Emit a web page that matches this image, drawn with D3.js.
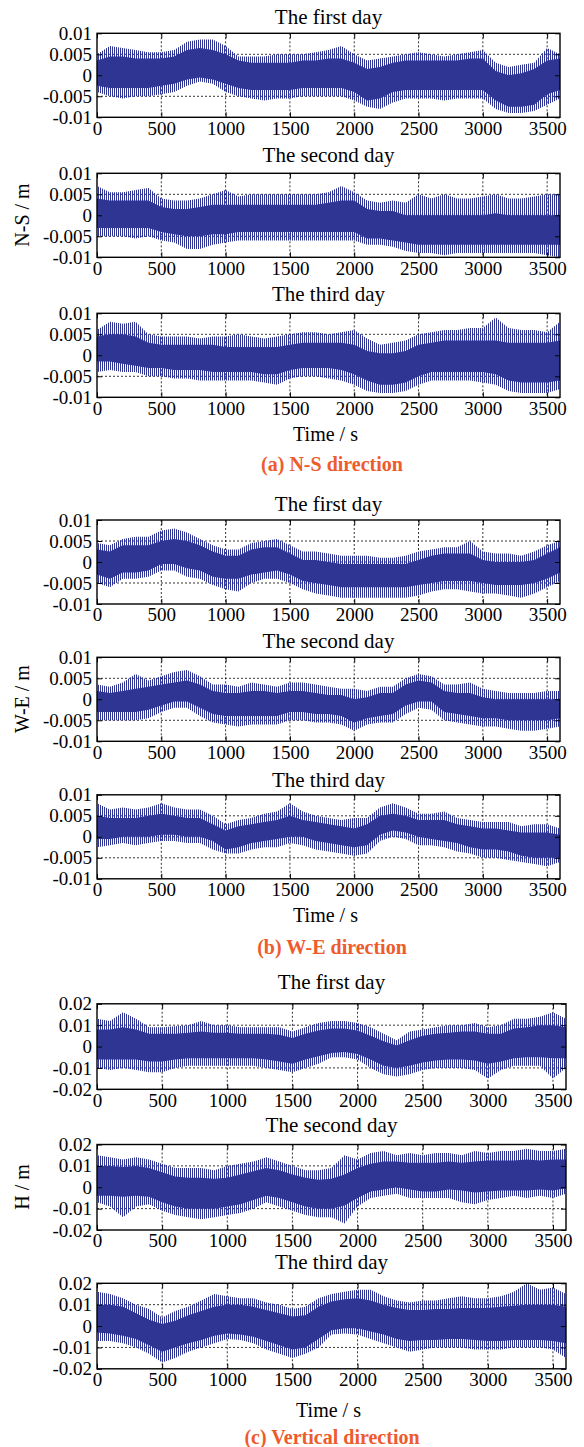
<!DOCTYPE html>
<html><head><meta charset="utf-8">
<script src="https://cdn.jsdelivr.net/npm/d3@7"></script>
<style>
body{margin:0;background:#fff}
</style>
</head><body>
<svg id="chart" width="584" height="1447"></svg>
<script>
// ---------------- DATA (envelopes, in mm) ----------------
const timeSec = [0,100,200,300,400,500,600,700,800,900,1000,1100,1200,1300,1400,1500,1600,1700,1800,1900,2000,2100,2200,2300,2400,2500,2600,2700,2800,2900,3000,3100,3200,3300,3400,3500,3600];
const xTicks = [0,500,1000,1500,2000,2500,3000,3500];
const yTicksHoriz = [-0.01,-0.005,0,0.005,0.01];
const yTicksVert = [-0.02,-0.01,0,0.01,0.02];
const dayTitles = ["The first day","The second day","The third day"];
const groupCaptions = ["(a) N-S direction","(b) W-E direction","(c) Vertical direction"];
const groupYLabels = ["N-S / m","W-E / m","H / m"];
const xLabel = "Time / s";

// N-S day 1
const ns1PeakHi = [5,7,6.5,6,5.5,5.5,6,8,8.5,8.5,7,4.5,4.5,4.5,5,5,5,5.5,6,7,5,3.5,4,4.5,5,5.5,5,4.5,5,5.5,6,3,2,2.5,3,6.5,5];
const ns1CoreHi = [3.5,4.5,4.5,4,4,4,4.5,6,6.5,6,5,3.5,3,3,3,3,3.5,3.5,4,4,3,1.5,2,3,3.5,3.5,3.5,3.5,3.5,4,4,1,0,0.5,1.5,3.5,4];
const ns1CoreLo = [-2.5,-3,-3,-3,-3,-2.5,-2,-1,-0.5,-1,-2,-3,-3.5,-3.5,-3.5,-3.5,-3,-3,-3,-3,-4,-6,-5.5,-4,-3.5,-3.5,-3.5,-3.5,-3.5,-3.5,-3.5,-6,-7.5,-7.5,-7,-4.5,-3.5];
const ns1PeakLo = [-4,-5,-5.5,-5,-5,-4.5,-4,-2.5,-1.5,-2,-4,-5,-5.5,-6,-5.5,-5.5,-5,-5,-5,-5,-6,-7.5,-8,-6.5,-5.5,-5.5,-5.5,-6,-5.5,-5.5,-5.5,-8,-9,-9,-8.5,-7,-5.5];
// N-S day 2
const ns2PeakHi = [7,5.5,5.5,6,6.5,4,3.5,3.5,4,5,6,4.5,5,5,5,5,5,5,5.5,7,5.5,3.5,3,3.5,3,5,4,5,4,4,4.5,5,4,4,4.5,5,5];
const ns2CoreHi = [4,3.5,3.5,3.5,3.5,2,1.5,1.5,2,2.5,2.5,2.5,2.5,2.5,2.5,2.5,2.5,2.5,3,3.5,3.5,1.5,1,1,0,0,0,0,0,0,0,0.5,0,0,0,0,0];
const ns2CoreLo = [-3,-3,-3,-3,-3,-4,-4.5,-5,-5,-4.5,-4.5,-4,-4,-4,-4,-4,-4,-4,-4,-4,-4,-5.5,-5.5,-6,-6.5,-7,-7,-7,-7,-7,-7,-7,-7,-7,-7,-7,-7];
const ns2PeakLo = [-5,-5,-5,-5.5,-5,-6,-6.5,-8,-8,-7,-6.5,-6,-6,-6,-6,-6,-6,-6,-6,-6,-6,-7,-7,-7.5,-8.5,-9,-9,-9.5,-9,-9,-9,-9,-9,-9,-9,-9.5,-10];
// N-S day 3
const ns3PeakHi = [6,8,7.5,8,5,4.5,4.5,4.5,4,4.5,4.5,5,4.5,4,4.5,5,5.5,5.5,5,5.5,6,4,2.5,3,3.5,5,5.5,6,6,6.5,6.5,9,6.5,6,6,5.5,8];
const ns3CoreHi = [4.5,5,5,4.5,3,2.5,2.5,2.5,2.5,2.5,2,2,2,2,2,2.5,3,3,3,3,2.5,1,0.5,0.5,1,2.5,3,3.5,3.5,3.5,3.5,3.5,3,3,3,3,3.5];
const ns3CoreLo = [-1.5,-1.5,-2,-2.5,-3,-3,-3.5,-3.5,-3.5,-4,-4,-4,-4,-4.5,-4.5,-3.5,-3,-3,-3,-3.5,-4.5,-6,-7,-7,-6.5,-5,-4,-4,-4,-4,-4,-4.5,-6,-6.5,-6.5,-6.5,-6];
const ns3PeakLo = [-4,-3.5,-4,-4,-5,-5,-5.5,-5.5,-6,-6,-6,-6,-6,-6.5,-7,-5.5,-5,-5,-5.5,-6,-7,-8.5,-9,-9,-8.5,-7,-6,-6,-6,-6,-6.5,-7,-8.5,-9,-9,-9,-8];
// W-E day 1
const we1PeakHi = [4.5,4,5.5,6,6,7.5,8,7,5.5,4,3,3,4.5,5,5.5,4,2.5,2.5,2,1.5,1.5,1.5,1,1,1.5,2.5,3,3.5,3.5,5,2.5,2,2,1.5,2.5,4,5];
const we1CoreHi = [3,2.5,4,4,4,5,5.5,5,4,2.5,1.5,1.5,3,3.5,3.5,2,0.5,0.5,0,-0.5,-0.5,-0.5,-0.5,-0.5,-0.5,0.5,1.5,2,2,2,0.5,0,0,0,0.5,2,3.5];
const we1CoreLo = [-3,-4,-2.5,-2.5,-2,-0.5,-0.5,-1.5,-2,-3.5,-4,-4,-3,-2.5,-2,-3,-4.5,-5,-5.5,-6,-6,-6,-6,-6,-6,-5.5,-5,-4.5,-4.5,-4.5,-5,-5.5,-5.5,-5.5,-5,-4,-2.5];
const we1PeakLo = [-5,-6,-4,-4,-3.5,-2,-2,-3.5,-4,-5.5,-6.5,-7,-5,-4,-4,-5,-6.5,-7.5,-8,-8.5,-8.5,-8.5,-8.5,-8.5,-8.5,-8,-7,-6.5,-6.5,-7,-7.5,-7.5,-8,-8.5,-7.5,-6,-4.5];
// W-E day 2
const we2PeakHi = [3.5,3,4,6,4.5,5.5,6.5,7,5.5,3.5,3.5,3,4,3.5,3,4,4,3.5,3,2.5,2.5,2,3,3,5,6,5.5,3.5,3.5,4,2.5,2,1.5,1.5,1.5,2,2];
const we2CoreHi = [2,1.5,2,2.5,3,3.5,4,4.5,3.5,2,1.5,1.5,2,2,1.5,2,2,1.5,1,1,0,0.5,1.5,1.5,3.5,4.5,4,2,1.5,1.5,0.5,0,0,0,0,0,0];
const we2CoreLo = [-3,-3,-3,-3,-2.5,-1.5,-0.5,-0.5,-2,-3.5,-4,-4,-4,-4,-4,-3,-3,-3.5,-3.5,-4,-5.5,-4.5,-4,-3.5,-1.5,-0.5,-0.5,-3,-3.5,-4,-4.5,-4.5,-5,-5,-5,-5,-4.5];
const we2PeakLo = [-5,-5,-5,-5,-4.5,-3,-2,-2,-4,-5.5,-6,-6.5,-6,-6,-6,-5,-5,-5.5,-5.5,-6,-7.5,-6,-5.5,-5.5,-3.5,-2,-2.5,-5,-5.5,-6,-6.5,-6.5,-7,-7.5,-7.5,-7,-6.5];
// W-E day 3
const we3PeakHi = [8,6.5,7,6.5,7,8,7,6.5,6.5,5,3,4,4.5,5.5,6,8,6,5,4.5,4,4.5,4.5,7,8,7,5.5,5.5,6,4.5,4,3.5,3.5,3.5,2.5,3,3,2];
const we3CoreHi = [5,4.5,4.5,4.5,5,5.5,5,4.5,4.5,3,1.5,2.5,3,3.5,4,5,4,3.5,3,2.5,2,3,5,5.5,5,4,4,4,3,2.5,2,2,1.5,1,1,1,0.5];
const we3CoreLo = [-0.5,-0.5,0,0,0,0.5,0.5,0,0,-1,-3,-2.5,-1.5,-1,-0.5,0,0,-1,-1.5,-2,-2.5,-2,0.5,1.5,1,0,-0.5,-1,-1.5,-2.5,-3,-3,-3.5,-4.5,-5,-5,-5];
const we3PeakLo = [-2.5,-2,-1.5,-2,-1.5,-1,-1,-1.5,-1.5,-3,-4,-4,-3,-2.5,-2.5,-1.5,-2,-3,-3.5,-4,-4.5,-4,-1,0,-0.5,-2,-2,-2.5,-3.5,-4,-5,-5,-5.5,-6,-6.5,-7,-6];
// H day 1
const h1PeakHi = [13,12,16,13,9,9,9.5,10,12,10,10,9,9,9,9,7,9,11,12,12,11,9,6,3,7,8,9,10,10,11,9,10,13,13,14,16,13];
const h1CoreHi = [8,8,9,8,6,6,6,6.5,7,6.5,6.5,6,6,6,5.5,4,6,7.5,8.5,8.5,7.5,5,2.5,0.5,3,5,6,6.5,7,7,6,6,8.5,9,10,10,9];
const h1CoreLo = [-6,-6,-6,-6,-7,-7,-6,-5.5,-5.5,-5.5,-5.5,-5.5,-5.5,-6,-7,-8,-6,-4.5,-3,-2.5,-3.5,-6,-9,-10,-9,-7.5,-6.5,-6,-6,-6.5,-8,-7,-5.5,-5,-5,-5.5,-5.5];
const h1PeakLo = [-10,-11,-10,-11,-12,-12,-10,-9,-9,-9,-9,-9,-9,-10,-11,-12,-10,-8,-5,-5,-6,-10,-13,-14,-13,-11,-10,-10,-10,-11,-15,-11,-9,-9,-9,-15,-10];
// H day 2
const h2PeakHi = [15,14,13,14,13,11,9,9,9,8,10,11,12,14,12,10,8,8,9,15,13,16,17,15,16,15,16,16,15,17,16,17,17,18,17,17,18];
const h2CoreHi = [10,10,9.5,10,9,7,5,4.5,4.5,4,4.5,6,7.5,9,8,6,4.5,3.5,4,6,9,11,12,12,11.5,11.5,11.5,12,11.5,12,12.5,12.5,12.5,13,12.5,13,13];
const h2CoreLo = [-4,-4,-4.5,-4,-4.5,-7,-9,-10,-10,-10,-9,-8,-6,-4,-5,-7,-9,-10,-10,-8.5,-5,-2,-1,0,-1,-2,-2,-1,-1.5,-2.5,-2,-1.5,-1.5,-1.5,-1,-1.5,-0.5];
const h2PeakLo = [-7,-9,-14,-9,-8,-11,-13,-14,-15,-14,-13,-12,-10,-7,-9,-11,-13,-14,-14,-17,-9,-5,-4,-3,-5,-5,-5,-5,-7,-8,-6,-5,-4,-5,-4,-5,-3];
// H day 3
const h3PeakHi = [16,15,13,10,8,4,7,9,12,15,14,13,13,11,10,8,9,13,15,16,17,17,14,12,11,12,12,13,14,13,13,14,16,20,17,18,15];
const h3CoreHi = [10,10,9,6,3,1,2.5,5,7,9,10,10,9,7.5,6,4.5,5,9,11.5,12.5,13,12,10,8.5,7.5,7.5,8,8,8.5,8.5,8.5,9,9.5,10,10,10,9];
const h3CoreLo = [-3,-3.5,-4.5,-6,-9,-12,-10,-8,-6.5,-4.5,-3.5,-4,-5,-7,-9,-11,-10,-6,-2,-1,-1,-2.5,-4,-6,-7,-6.5,-6.5,-6,-6,-6.5,-7,-7,-6.5,-6.5,-6.5,-7,-8];
const h3PeakLo = [-7,-7,-8,-10,-13,-17,-15,-12,-10,-8,-6,-6.5,-8,-11,-13,-15,-13,-10,-4,-3.5,-4,-6,-8,-10,-12,-11,-10,-10,-10,-11,-11,-11,-10,-10,-10,-11,-15];

// ---------------- LAYOUT ----------------
const FONT = "'Liberation Serif', 'DejaVu Serif', serif";
const BLUE = "#2e3592";
const CAPTION = "#ee5b2c";
const groups = [
  {x0:97, x1:560, tops:[33.3,173.3,313.3], h:84, yDomain:[-0.01,0.01], yTicks:yTicksHoriz,
   titleY:[16.7,155,294], ylabY:215, xlabY:434, capY:463.5,
   series:[[ns1PeakHi,ns1CoreHi,ns1CoreLo,ns1PeakLo],[ns2PeakHi,ns2CoreHi,ns2CoreLo,ns2PeakLo],[ns3PeakHi,ns3CoreHi,ns3CoreLo,ns3PeakLo]]},
  {x0:97, x1:560, tops:[520,657.3,794.8], h:84, yDomain:[-0.01,0.01], yTicks:yTicksHoriz,
   titleY:[504,640.5,779.3], ylabY:699, xlabY:915, capY:947,
   series:[[we1PeakHi,we1CoreHi,we1CoreLo,we1PeakLo],[we2PeakHi,we2CoreHi,we2CoreLo,we2PeakLo],[we3PeakHi,we3CoreHi,we3CoreLo,we3PeakLo]]},
  {x0:97, x1:566, tops:[1003.8,1144.5,1283.3], h:85.5, yDomain:[-0.02,0.02], yTicks:yTicksVert,
   titleY:[981.7,1125,1261.7], ylabY:1187, xlabY:1410, capY:1436.5,
   series:[[h1PeakHi,h1CoreHi,h1CoreLo,h1PeakLo],[h2PeakHi,h2CoreHi,h2CoreLo,h2PeakLo],[h3PeakHi,h3CoreHi,h3CoreLo,h3PeakLo]]}
];

const svg = d3.select("#chart").style("font-family", FONT);
const defs = svg.append("defs");
defs.append("pattern").attr("id","spikes").attr("patternUnits","userSpaceOnUse")
  .attr("width",2).attr("height",8)
  .append("rect").attr("width",1).attr("height",8).attr("fill",BLUE);

function txt(sel) { return sel.style("font-family", FONT).attr("fill", "#000"); }

groups.forEach((G, gi) => {
  G.tops.forEach((top, di) => {
    const x = d3.scaleLinear().domain([0,3600]).range([G.x0, G.x1]);
    const y = d3.scaleLinear().domain(G.yDomain).range([top + G.h, top]);
    const g = svg.append("g");
    const clipId = `clip${gi}${di}`;
    defs.append("clipPath").attr("id", clipId).append("rect")
      .attr("x", G.x0).attr("y", top).attr("width", G.x1 - G.x0).attr("height", G.h);

    // grid
    const grid = g.append("g").attr("stroke","#000").attr("stroke-width",0.8).attr("stroke-dasharray","2,2");
    xTicks.filter(t => t > 0).forEach(t => grid.append("line")
      .attr("x1", x(t)).attr("x2", x(t)).attr("y1", top).attr("y2", top + G.h));
    G.yTicks.filter(v => v > G.yDomain[0] && v < G.yDomain[1]).forEach(v => grid.append("line")
      .attr("x1", G.x0).attr("x2", G.x1).attr("y1", y(v)).attr("y2", y(v)));

    // data
    const [pHi, cHi, cLo, pLo] = G.series[di];
    const rows = timeSec.map((t, i) => ({t, pHi:pHi[i]/1000, cHi:cHi[i]/1000, cLo:cLo[i]/1000, pLo:pLo[i]/1000}));
    const dg = g.append("g").attr("clip-path", `url(#${clipId})`);
    dg.append("path").datum(rows).attr("fill","url(#spikes)")
      .attr("d", d3.area().x(d => x(d.t)).y0(d => y(d.pLo)).y1(d => y(d.pHi)));
    dg.append("path").datum(rows).attr("fill",BLUE)
      .attr("d", d3.area().x(d => x(d.t)).y0(d => y(d.cLo)).y1(d => y(d.cHi)));

    // axes
    const bottom = g.append("g").attr("transform", `translate(0,${top + G.h})`)
      .call(d3.axisBottom(x).tickValues(xTicks).tickSize(-5).tickSizeOuter(0).tickPadding(4).tickFormat(d => String(d)));
    const left = g.append("g").attr("transform", `translate(${G.x0},0)`)
      .call(d3.axisLeft(y).tickValues(G.yTicks).tickSize(-5).tickSizeOuter(0).tickPadding(5).tickFormat(d => String(d)));
    const topAx = g.append("g").attr("transform", `translate(0,${top})`)
      .call(d3.axisTop(x).tickValues(xTicks).tickSize(-5).tickSizeOuter(0).tickFormat(""));
    const rightAx = g.append("g").attr("transform", `translate(${G.x1},0)`)
      .call(d3.axisRight(y).tickValues(G.yTicks).tickSize(-5).tickSizeOuter(0).tickFormat(""));
    [bottom, left, topAx, rightAx].forEach(a => {
      a.select(".domain").remove();
      a.attr("font-family", FONT).attr("font-size", 19);
      a.selectAll("line").attr("stroke","#000").attr("stroke-width",1);
      txt(a.selectAll("text")).style("font-size","19px");
    });

    // box
    g.append("rect").attr("x", G.x0).attr("y", top).attr("width", G.x1 - G.x0).attr("height", G.h)
      .attr("fill","none").attr("stroke","#000").attr("stroke-width",1.4);

    // title
    txt(g.append("text")).attr("x", (G.x0 + G.x1) / 2).attr("y", G.titleY[di]).attr("dy","0.35em")
      .attr("text-anchor","middle").style("font-size","21px").text(dayTitles[di]);
  });

  const cx = (G.x0 + G.x1) / 2;
  txt(svg.append("text")).attr("transform", `translate(22,${G.ylabY}) rotate(-90)`).attr("dy","0.35em")
    .attr("text-anchor","middle").style("font-size","20px").text(groupYLabels[gi]);
  txt(svg.append("text")).attr("x", cx - 3).attr("y", G.xlabY).attr("dy","0.35em")
    .attr("text-anchor","middle").style("font-size","20px").text(xLabel);
  txt(svg.append("text")).attr("x", 332).attr("y", G.capY).attr("dy","0.35em")
    .attr("text-anchor","middle").style("font-size","20px").style("font-weight","bold")
    .attr("fill", CAPTION).text(groupCaptions[gi]);
});
</script>
</body></html>
